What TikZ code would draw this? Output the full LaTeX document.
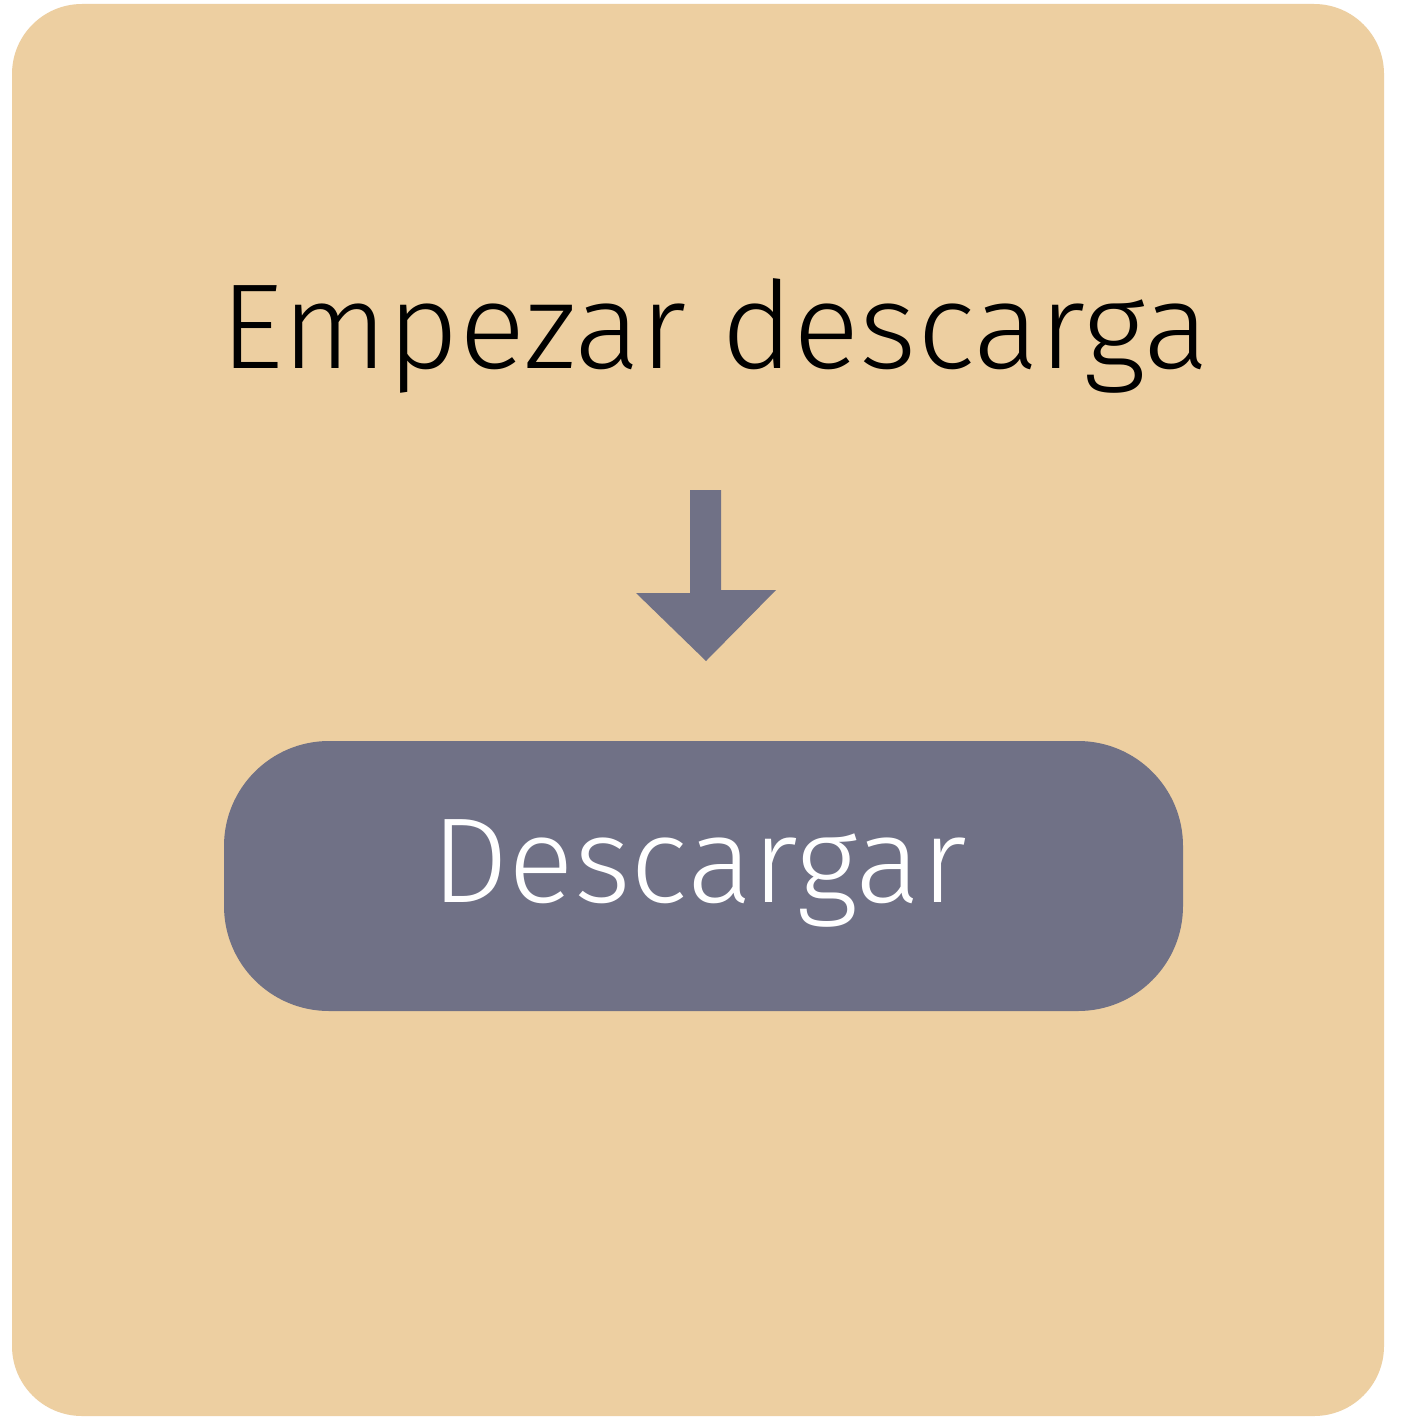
\documentclass[tikz,border=0pt]{standalone}
\usepackage{fontspec}
\setmainfont{Fira Sans Light}
\definecolor{bgtan}{HTML}{EDCFA1}
\definecolor{slate}{HTML}{707186}
\begin{document}
\begin{tikzpicture}[x=1pt,y=-1pt,
  panel/.style={fill=bgtan,draw=none,rounded corners=70pt},
  btn/.style={fill=slate,draw=none,rounded corners=105pt},
  lbl/.style={font=\fontsize{121}{140}\selectfont,inner sep=0pt}]
\useasboundingbox (0,0) rectangle (1418,1418);
\fill[white] (0,0) rectangle (1418,1418);
\path[panel] (12,4) rectangle (1384,1416);
\node[lbl,anchor=base,text=black,xscale=1.02] (start) at (715,368) {Empezar descarga};
\path[btn] (224,741) rectangle (1183,1011);
\node[lbl,anchor=base,text=white,xscale=1.01] (dl) at (699,902) {Descargar};
\fill[slate] (690,490) -- (721,490) -- (721,590) -- (776,590) -- (706,661) -- (636,593) -- (690,593) -- cycle;
\end{tikzpicture}
\end{document}
